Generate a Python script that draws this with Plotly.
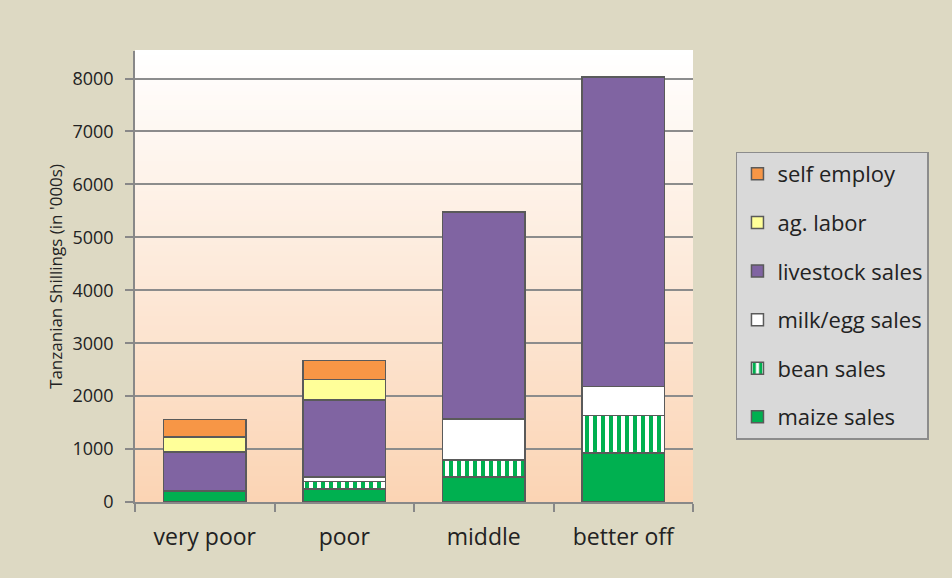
import plotly.graph_objects as go

categories = ["very poor", "poor", "middle", "better off"]
maize = [210, 250, 475, 930]
bean = [0, 140, 320, 700]
milk = [0, 80, 770, 555]
livestock = [730, 1460, 3910, 5845]
ag_labor = [290, 380, 0, 0]
self_employ = [330, 360, 0, 0]

series = [
    ("maize sales", maize, "#00B050", None),
    ("bean sales", bean, "#FFFFFF", "|"),
    ("milk/egg sales", milk, "#FFFFFF", None),
    ("livestock sales", livestock, "#8064A2", None),
    ("ag. labor", ag_labor, "#FFFF99", None),
    ("self employ", self_employ, "#F79646", None),
]

FONT = "Open Sans, sans-serif"
fig = go.Figure()
for i, (name, vals, col, pat) in enumerate(series):
    marker = dict(color=col, line=dict(color="#5A5A5A", width=1.5))
    if pat:
        marker["pattern"] = dict(shape=pat, fgcolor="#00B050", bgcolor="#FFFFFF",
                                 size=8, solidity=0.5, fillmode="overlay",
                                 fgopacity=1)
    fig.add_trace(go.Bar(x=categories, y=vals, name=name, marker=marker,
                         legendgroup=name, legendrank=100 - i))

# gradient plot background (white at top to peach at bottom)
n = 90
top = (255, 255, 255)
bot = (251, 212, 180)
shapes = []
for k in range(n):
    t = (k + 0.5) / n
    c = tuple(round(top[j] + (bot[j] - top[j]) * t) for j in range(3))
    shapes.append(dict(type="rect", xref="x domain", yref="y domain",
                       x0=0, x1=1, y0=1 - (k + 1) / n, y1=1 - k / n + 0.002,
                       fillcolor="rgb(%d,%d,%d)" % c, line=dict(width=0),
                       layer="below"))

fig.update_layout(
    barmode="stack",
    bargap=0.41,
    width=952, height=578,
    margin=dict(l=135, r=259, t=51, b=76),
    paper_bgcolor="#DDD9C3",
    plot_bgcolor="rgba(0,0,0,0)",
    font=dict(family=FONT, color="#222222"),
    shapes=shapes,
    showlegend=True,
    legend=dict(
        x=1.077, xanchor="left", y=0.777, yanchor="top",
        bgcolor="#D9D9D9", bordercolor="#8C8C8C", borderwidth=1.5,
        font=dict(size=22, family=FONT, color="#222222"),
        traceorder="grouped", tracegroupgap=17,
        itemwidth=30,
    ),
    xaxis=dict(
        showline=True, linecolor="#888888", linewidth=1.5,
        ticks="outside", tickson="boundaries", ticklen=8, tickcolor="#888888",
        tickwidth=1.5, ticklabelstandoff=14,
        tickfont=dict(size=23, family=FONT, color="#222222"),
        showgrid=False,
    ),
    yaxis=dict(
        range=[0, 8520],
        tickvals=[0, 1000, 2000, 3000, 4000, 5000, 6000, 7000, 8000],
        showline=True, linecolor="#888888", linewidth=1.5,
        ticks="outside", ticklen=8, tickcolor="#888888", tickwidth=1.5,
        ticklabelstandoff=8,
        showgrid=True, gridcolor="#8C8C8C", gridwidth=1.5,
        zeroline=False,
        tickfont=dict(size=18, family=FONT, color="#222222"),
        title=dict(text="Tanzanian Shillings (in '000s)",
                   font=dict(size=17, family=FONT, color="#222222"), standoff=6),
    ),
)

fig.write_html("out.html")
